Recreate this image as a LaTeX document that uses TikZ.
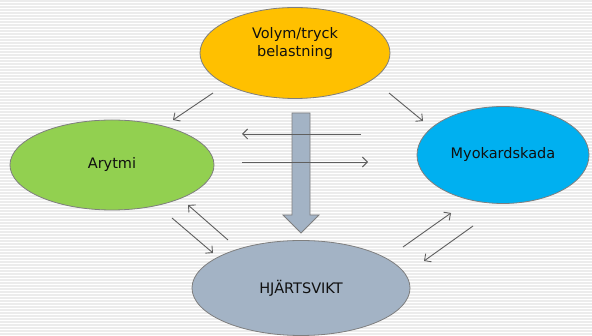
\documentclass[tikz,border=0pt]{standalone}
\usepackage{fontspec}
\setmainfont{DejaVu Sans}
\usetikzlibrary{arrows.meta,shapes.geometric}
\definecolor{corange}{HTML}{FFC000}
\definecolor{cgreen}{HTML}{92D050}
\definecolor{cblue}{HTML}{00B0F0}
\definecolor{cgrayblue}{HTML}{A3B3C5}
\definecolor{cborder}{HTML}{7F7F7F}
\definecolor{cline}{HTML}{5F5F5F}
\definecolor{ctext}{HTML}{101010}
\definecolor{cstripe}{HTML}{ECECEC}
\tikzset{
  blob/.style={ellipse, draw=cborder, line width=0.8pt, inner sep=0pt,
    text=ctext, font=\fontsize{14.5}{18}\selectfont, align=center},
  conn/.style={draw=cline, line width=0.9pt, -{Straight Barb[length=5pt,width=10pt]}},
}
\begin{document}
\begin{tikzpicture}[x=1pt,y=-1pt]
\useasboundingbox (0,0) rectangle (592,336);
\fill[white] (0,0) rectangle (592,336);
\foreach \yy in {1,4,...,336} {\draw[cstripe, line width=1.2pt] (0,\yy) -- (592,\yy);}
% ellipses
\node[blob, fill=corange, minimum width=190pt, minimum height=91pt] (vol) at (295,53) {Volym/tryck\\belastning\\[-2pt]\strut};
\node[blob, fill=cgreen, minimum width=204pt, minimum height=90pt] (ary) at (112,165) {Arytmi};
\node[blob, fill=cblue, minimum width=172pt, minimum height=97pt] (myo) at (503,155) {Myokardskada};
\node[blob, fill=cgrayblue, minimum width=218pt, minimum height=95pt] (hjs) at (301,288) {HJÄRTSVIKT};
% big arrow (block arrow drawn directly)
\filldraw[draw=cborder, fill=cgrayblue, line width=0.8pt, line join=miter]
  (292,113) -- (310,113) -- (310,215) -- (319,215) -- (301,233) -- (283,215) -- (292,215) -- cycle;
% horizontal arrows
\coordinate (h1s) at (361,134);
\coordinate (h1e) at (242,134);
\coordinate (h2s) at (242,162);
\coordinate (h2e) at (368,162);
\draw[conn] (h1s) -- (h1e);
\draw[conn] (h2s) -- (h2e);
% diagonal arrows
\coordinate (a1s) at (213,93);
\coordinate (a1e) at (173,120);
\coordinate (a2s) at (389,93);
\coordinate (a2e) at (423,121);
\coordinate (a3s) at (228,240);
\coordinate (a3e) at (188,205);
\coordinate (a4s) at (172,218);
\coordinate (a4e) at (213,253);
\coordinate (a5s) at (403,247);
\coordinate (a5e) at (451,213);
\coordinate (a6s) at (473,226);
\coordinate (a6e) at (424,261);
\draw[conn] (a1s) -- (a1e);
\draw[conn] (a2s) -- (a2e);
\draw[conn] (a3s) -- (a3e);
\draw[conn] (a4s) -- (a4e);
\draw[conn] (a5s) -- (a5e);
\draw[conn] (a6s) -- (a6e);
\end{tikzpicture}
\end{document}
